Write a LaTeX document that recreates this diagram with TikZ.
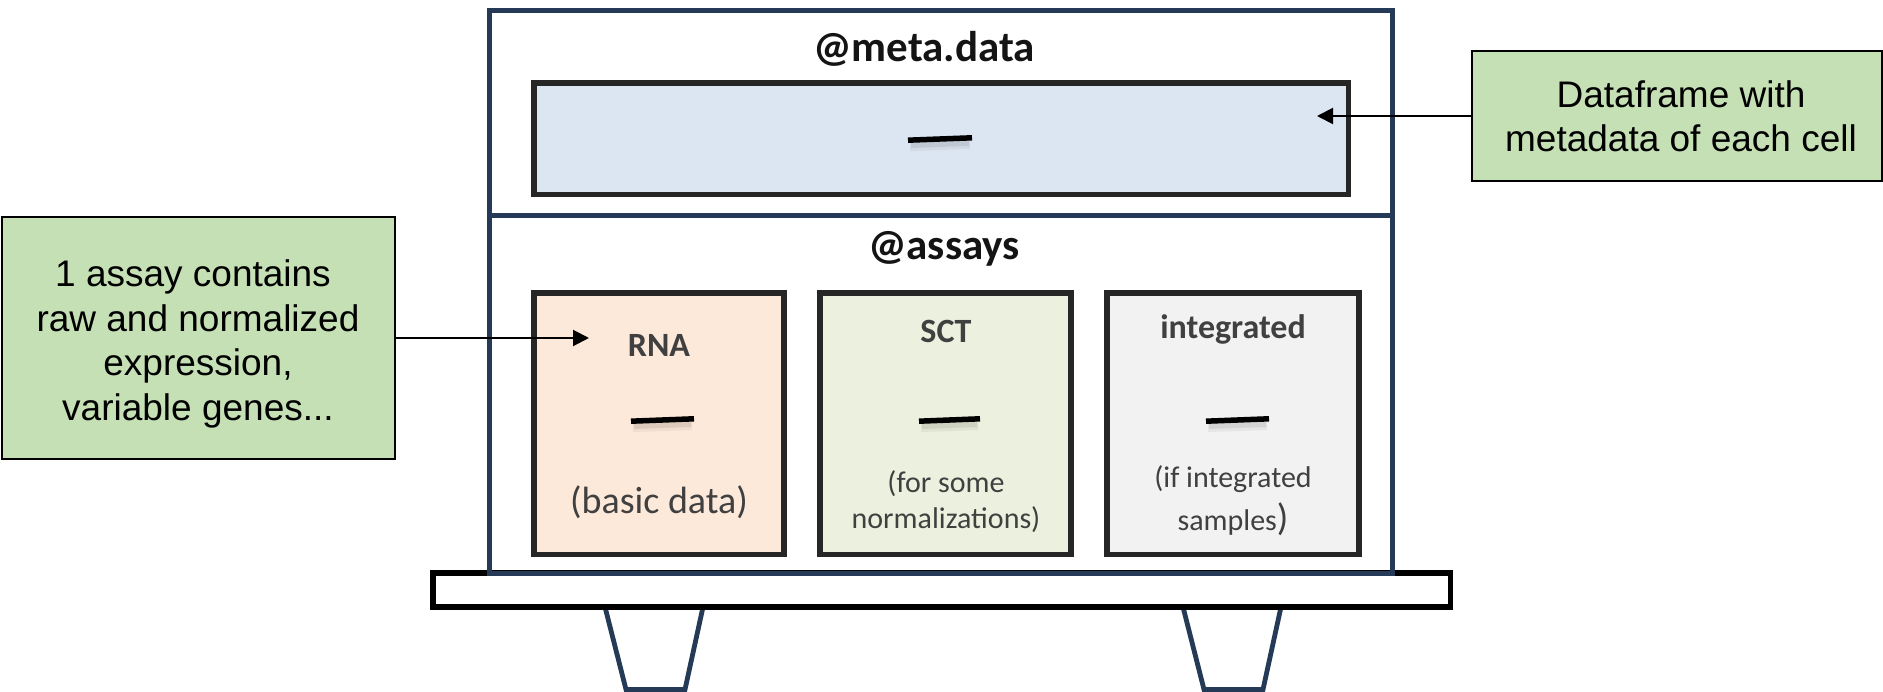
\documentclass[tikz,border=0pt]{standalone}
\usepackage{fontspec}
\setmainfont{Carlito}
\newfontfamily\notefont{Liberation Sans}
\usetikzlibrary{arrows.meta}

\definecolor{navy}{RGB}{36,58,86}
\definecolor{boxline}{RGB}{38,38,38}
\definecolor{notegreen}{RGB}{197,224,180}
\definecolor{metafill}{RGB}{220,230,242}
\definecolor{rnafill}{RGB}{252,233,218}
\definecolor{sctfill}{RGB}{235,241,222}
\definecolor{intfill}{RGB}{242,242,242}
\definecolor{labelgray}{RGB}{64,64,64}

\begin{document}
\begin{tikzpicture}[x=1pt, y=-1pt,
  frame/.style={draw=navy, line width=5pt, inner sep=0pt, outer sep=0pt, anchor=north west},
  slot/.style={draw=boxline, line width=5.5pt, inner sep=0pt, outer sep=0pt, anchor=north west},
  note/.style={draw=black, line width=2.2pt, fill=notegreen, inner sep=0pt, outer sep=0pt, anchor=north west},
  notetext/.style={font=\notefont\fontsize{37}{44.5}\selectfont, align=center, inner sep=0pt},
  title/.style={font=\fontsize{43}{50}\selectfont\bfseries, text=black!92, anchor=base, inner sep=0pt},
  label/.style={font=\fontsize{34}{40}\selectfont\bfseries, text=labelgray, anchor=base, inner sep=0pt},
  subbig/.style={font=\fontsize{38}{44}\selectfont, text=labelgray, anchor=base, inner sep=0pt},
  subsmall/.style={font=\fontsize{30}{36}\selectfont, text=labelgray, anchor=base, inner sep=0pt},
  pointer/.style={draw=black, line width=2pt, -{Triangle[length=16pt, width=16pt]}},
  leg/.style={draw=navy, line width=4.8pt, line join=miter},
]
\useasboundingbox (0,0) rectangle (1883,692);

% stand: legs, then the shelf
\draw[leg] (605,607) -- (626,689.5) -- (685,689.5) -- (703,607);
\draw[leg] (1183,607) -- (1204,689.5) -- (1263,689.5) -- (1281,607);
\node[draw=black, line width=5.6pt, inner sep=0pt, outer sep=0pt, anchor=north west,
      minimum width=1017.5pt, minimum height=34pt] (shelf) at (433,573) {};

% object slots
\node[frame, minimum width=903pt, minimum height=205.5pt] (metaslot) at (489.5,10.5) {};
\node[frame, minimum width=903pt, minimum height=357pt] (assayslot) at (489.5,216) {};

\node[title] (metatitle) at (924,62) {@meta.data};
\node[title] (assaytitle) at (944,260) {@assays};

% meta.data table
\node[slot, fill=metafill, minimum width=814.5pt, minimum height=111.5pt] (metatab) at (534,83) {};

% assays
\node[slot, fill=rnafill, minimum width=250pt, minimum height=261.5pt] (rna) at (534,293) {};
\node[slot, fill=sctfill, minimum width=251pt, minimum height=261.5pt] (sct) at (820,293) {};
\node[slot, fill=intfill, minimum width=252pt, minimum height=261.5pt] (integ) at (1107,293) {};

\node[label] (rnalabel) at (659,357) {RNA};
\node[label] (sctlabel) at (946,343) {SCT};
\node[label] (intlabel) at (1233,339) {integrated};

\node[subbig] (rnanote) at (659,513) {(basic data)};
\node[subsmall] (sctnoteA) at (946,493) {(for some};
\node[subsmall] (sctnoteB) at (946,528) {normalizations)};
\node[subsmall] (intnoteA) at (1233,488) {(if integrated};
\node[subsmall] (intnoteB) at (1233,530) {samples{\fontsize{38}{40}\selectfont)}};

% dash marks with soft shadow
\foreach \xa/\xb/\yy in {908/972/139, 631/694/420, 919/980/420, 1206/1269/420} {
  \draw[line width=12pt, black, opacity=0.05] (\xa+2,\yy+6) -- (\xb-2,\yy+4);
  \draw[line width=8pt, black, opacity=0.08] (\xa+3,\yy+5) -- (\xb-3,\yy+3);
  \draw[line width=5.5pt, black] (\xa,\yy+1.2) -- (\xb,\yy-1.2);
}

% callouts
\node[note, minimum width=410pt, minimum height=130pt] (dfnote) at (1472,51) {};
\node[notetext] (dftext) at (1681,116.5) {Dataframe with\\metadata of each cell};
\node[note, minimum width=393pt, minimum height=242pt] (assaynote) at (2,217) {};
\node[notetext] (assaytext) at (198,344) {1 assay contains\hspace*{10pt}\\raw and normalized\\expression,\hspace*{38pt}\\variable genes...};

\coordinate (metatip) at (1317,116);
\coordinate (rnatip) at (589,338);
\draw[pointer] (dfnote.west) -- (metatip);
\draw[pointer] (assaynote.east) -- (rnatip);
\end{tikzpicture}
\end{document}
